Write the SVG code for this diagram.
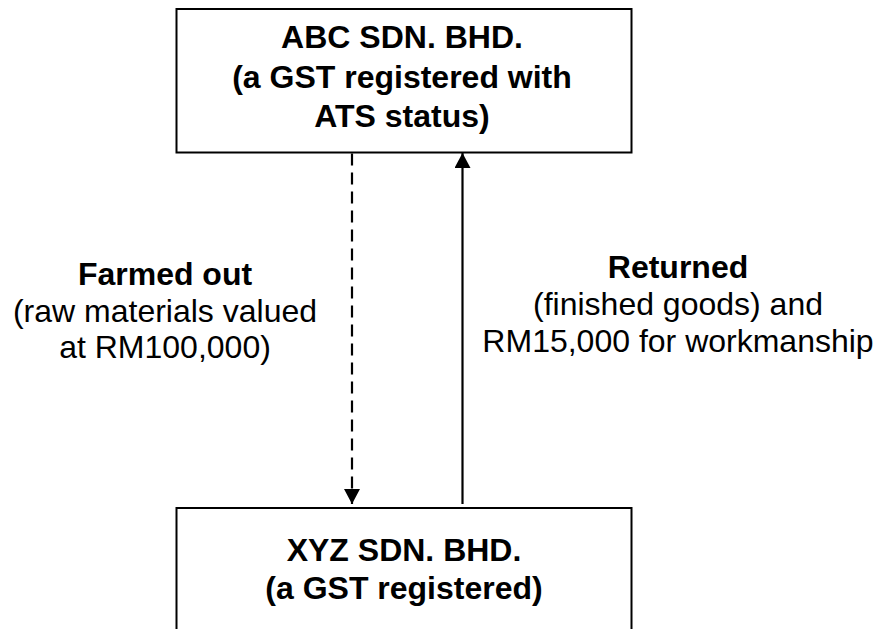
<svg xmlns="http://www.w3.org/2000/svg" width="878" height="629" viewBox="0 0 878 629">
<style>
.box{fill:#fff;stroke:#000;stroke-width:2}
.t{font-family:"Liberation Sans",Arial,sans-serif;font-size:32px;fill:#000;text-anchor:middle}
.b{font-weight:bold}
.ln{stroke:#000;stroke-width:2.2;fill:none}
</style>
<defs>
<marker id="ah" markerWidth="16" markerHeight="16" viewBox="0 0 16 16" refX="15" refY="8" orient="auto" markerUnits="userSpaceOnUse">
<path d="M0,0 L15,8 L0,16 Z" fill="#000"/>
</marker>
</defs>
<rect width="878" height="629" fill="#fff"/>
<g id="abc">
<rect class="box" x="176.5" y="9" width="455" height="143.5"/>
<text class="t b" x="402" y="48">ABC SDN. BHD.</text>
<text class="t b" x="402" y="88">(a GST registered with</text>
<text class="t b" x="402" y="127">ATS status)</text>
</g>
<g id="xyz">
<rect class="box" x="176.5" y="508" width="455" height="200"/>
<text class="t b" x="404" y="561">XYZ SDN. BHD.</text>
<text class="t b" x="404" y="599">(a GST registered)</text>
</g>
<g id="connectors">
<line class="ln" x1="352" y1="153.5" x2="352" y2="504" stroke-dasharray="12,7" stroke-width="2.6" marker-end="url(#ah)"/>
<line class="ln" x1="462.5" y1="504" x2="462.5" y2="153" marker-end="url(#ah)"/>
</g>
<g id="label-farmed">
<text class="t b" x="165" y="285">Farmed out</text>
<text class="t" x="165" y="322">(raw materials valued</text>
<text class="t" x="165" y="358">at RM100,000)</text>
</g>
<g id="label-returned">
<text class="t b" x="678" y="278">Returned</text>
<text class="t" x="678" y="315">(finished goods) and</text>
<text class="t" x="678" y="352">RM15,000 for workmanship</text>
</g>
</svg>
